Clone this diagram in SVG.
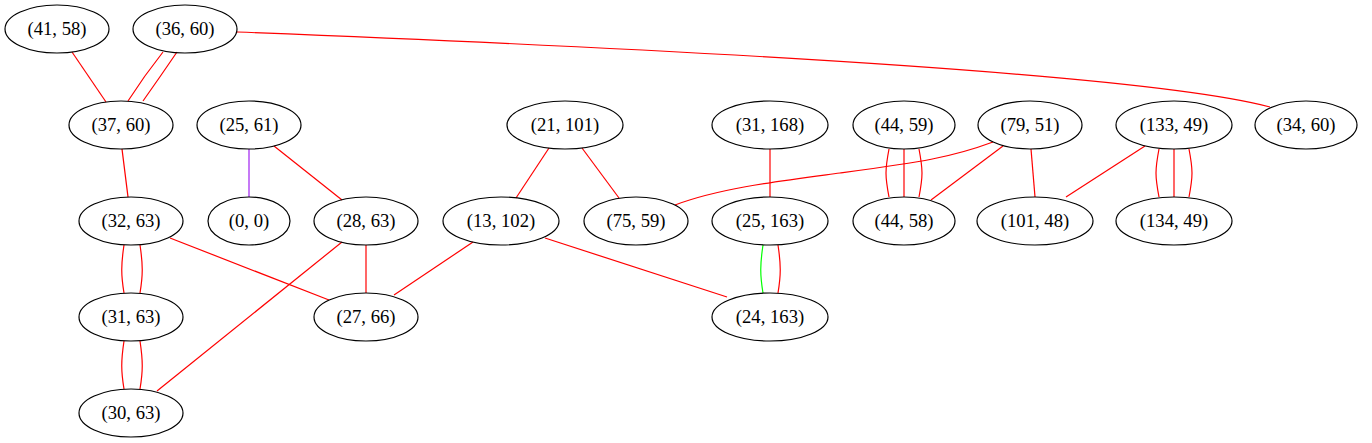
<svg xmlns="http://www.w3.org/2000/svg" width="1372" height="443" viewBox="0 0 1372 443">
<style>
.n ellipse{fill:none;stroke:#000;stroke-width:1.2}
.n text{font-family:"Liberation Serif","Times New Roman",serif;font-size:18.67px;text-anchor:middle;fill:#000}
.e path{fill:none;stroke:#ff0000;stroke-width:1.2}
.e path.g{stroke:#00ff00}
.e path.p{stroke:#a020f0}
</style>
<rect width="1372" height="443" fill="#fff"/>
<g class="e" id="edges">
<path d="M72,52 L106,102"/>
<path d="M163,52 Q144,76 128,101"/>
<path d="M177,52 Q160,77 143,101"/>
<path d="M237,32 C700,50 1150,75 1270,107"/>
<path d="M122,149 L128,197"/>
<path class="p" d="M249,149 L249,197"/>
<path d="M274,146 L342,200"/>
<path d="M124,245 C121,265 121,275 124,293"/>
<path d="M140,245 C143,265 143,275 140,293"/>
<path d="M170,238 L329,300"/>
<path d="M124,341 C121,361 121,371 124,389"/>
<path d="M140,341 C143,361 143,371 140,389"/>
<path d="M342,242 L157,391"/>
<path d="M366,245 L366,293"/>
<path d="M473,242 L394,295"/>
<path d="M549,148 L516,198"/>
<path d="M582,148 L619,198"/>
<path d="M545,238 L727,297"/>
<path d="M770,149 L770,197"/>
<path class="g" d="M763,245 C760,265 760,275 763,293"/>
<path d="M778,245 C781,265 781,275 778,293"/>
<path d="M993,142 C950,158 920,162 840,173 C780,181 720,188 675,205"/>
<path d="M1003,146 L931,200"/>
<path d="M1031,149 L1035,197"/>
<path d="M889,149 C885,170 885,176 889,197"/>
<path d="M904,149 L904,197"/>
<path d="M919,149 C923,170 923,176 919,197"/>
<path d="M1145,146 L1066,197"/>
<path d="M1159,149 C1155,170 1155,176 1159,197"/>
<path d="M1174,149 L1174,197"/>
<path d="M1189,149 C1193,170 1193,176 1189,197"/>
</g>
<g class="n" id="n41_58"><ellipse cx="57" cy="29" rx="52" ry="24"/><text x="57" y="35">(41, 58)</text></g>
<g class="n" id="n36_60"><ellipse cx="185" cy="29" rx="52" ry="24"/><text x="185" y="35">(36, 60)</text></g>
<g class="n" id="n37_60"><ellipse cx="121" cy="125" rx="52" ry="24"/><text x="121" y="131">(37, 60)</text></g>
<g class="n" id="n25_61"><ellipse cx="249" cy="125" rx="52" ry="24"/><text x="249" y="131">(25, 61)</text></g>
<g class="n" id="n21_101"><ellipse cx="565" cy="125" rx="58" ry="24"/><text x="565" y="131">(21, 101)</text></g>
<g class="n" id="n31_168"><ellipse cx="770" cy="125" rx="58" ry="24"/><text x="770" y="131">(31, 168)</text></g>
<g class="n" id="n44_59"><ellipse cx="904" cy="125" rx="51" ry="24"/><text x="904" y="131">(44, 59)</text></g>
<g class="n" id="n79_51"><ellipse cx="1030" cy="125" rx="52" ry="24"/><text x="1030" y="131">(79, 51)</text></g>
<g class="n" id="n133_49"><ellipse cx="1174" cy="125" rx="58" ry="24"/><text x="1174" y="131">(133, 49)</text></g>
<g class="n" id="n34_60"><ellipse cx="1306" cy="125" rx="51" ry="24"/><text x="1306" y="131">(34, 60)</text></g>
<g class="n" id="n32_63"><ellipse cx="131" cy="221" rx="52" ry="24"/><text x="131" y="227">(32, 63)</text></g>
<g class="n" id="n0_0"><ellipse cx="249" cy="221" rx="41" ry="24"/><text x="249" y="227">(0, 0)</text></g>
<g class="n" id="n28_63"><ellipse cx="366" cy="221" rx="52" ry="24"/><text x="366" y="227">(28, 63)</text></g>
<g class="n" id="n13_102"><ellipse cx="501" cy="221" rx="58" ry="24"/><text x="501" y="227">(13, 102)</text></g>
<g class="n" id="n75_59"><ellipse cx="636" cy="221" rx="52" ry="24"/><text x="636" y="227">(75, 59)</text></g>
<g class="n" id="n25_163"><ellipse cx="770" cy="221" rx="58" ry="24"/><text x="770" y="227">(25, 163)</text></g>
<g class="n" id="n44_58"><ellipse cx="904" cy="221" rx="51" ry="24"/><text x="904" y="227">(44, 58)</text></g>
<g class="n" id="n101_48"><ellipse cx="1035" cy="221" rx="58" ry="24"/><text x="1035" y="227">(101, 48)</text></g>
<g class="n" id="n134_49"><ellipse cx="1174" cy="221" rx="58" ry="24"/><text x="1174" y="227">(134, 49)</text></g>
<g class="n" id="n31_63"><ellipse cx="131" cy="317" rx="52" ry="24"/><text x="131" y="323">(31, 63)</text></g>
<g class="n" id="n27_66"><ellipse cx="366" cy="317" rx="52" ry="24"/><text x="366" y="323">(27, 66)</text></g>
<g class="n" id="n24_163"><ellipse cx="770" cy="317" rx="58" ry="24"/><text x="770" y="323">(24, 163)</text></g>
<g class="n" id="n30_63"><ellipse cx="131" cy="413" rx="52" ry="24"/><text x="131" y="419">(30, 63)</text></g>
</svg>
